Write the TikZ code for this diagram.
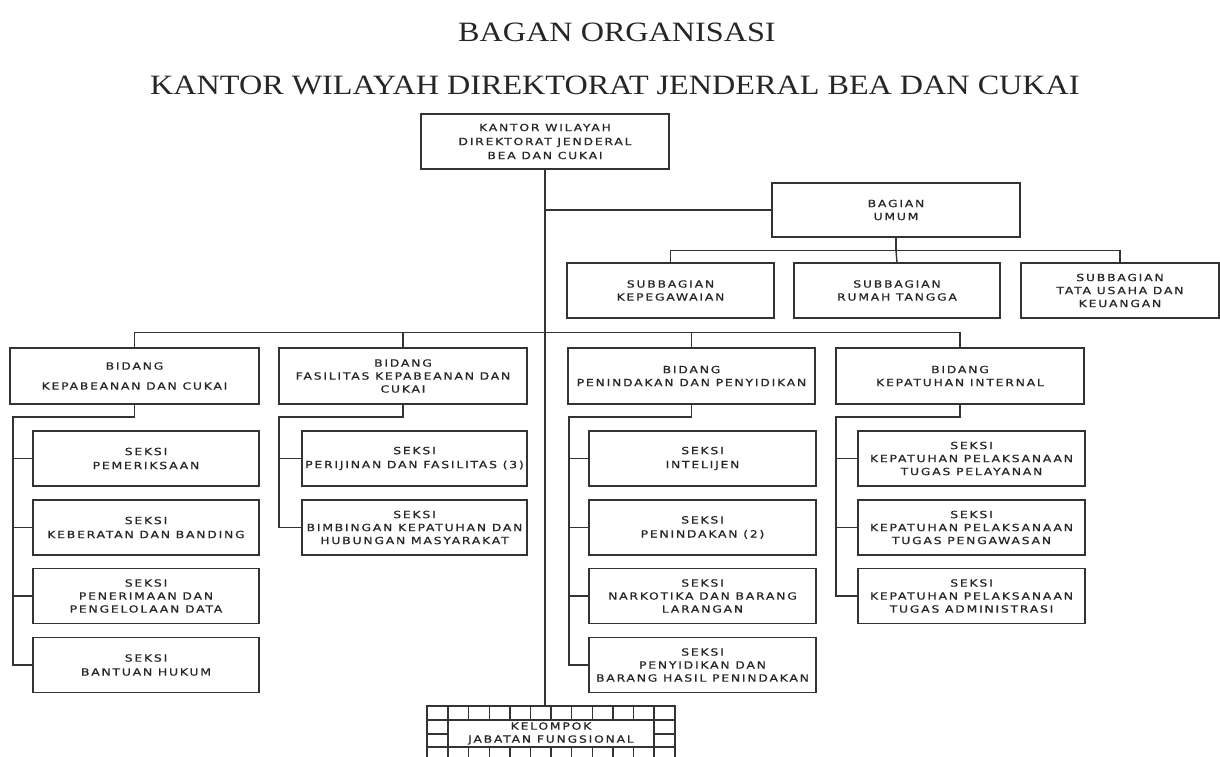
\documentclass[tikz,border=0pt]{standalone}
\usepackage{fontspec}
\setmainfont{Liberation Serif}
\newfontfamily\orgboxfont[FakeStretch=1.25,LetterSpace=18,FakeBold=0.8]{DejaVu Sans}
\newfontfamily\orgtitlefont[FakeStretch=1.15]{Liberation Serif}
\usetikzlibrary{calc}
\begin{document}
\begin{tikzpicture}[x=1pt,y=-1pt,
  ln/.style={line width=1.4pt, draw=black!80},
  box/.style={ln, rectangle, inner sep=0pt, align=center, text=black!85,
    font=\orgboxfont\fontsize{9.9}{13}\selectfont},
  bidbox/.style={box, minimum height=56},
  sekbox/.style={box, minimum height=55},
  ttl/.style={inner sep=0pt, text=black!85, font=\orgtitlefont\fontsize{28}{30}\selectfont}]
\useasboundingbox (0,0) rectangle (1220,757);

% titles
\node[ttl] (t1) at (617,32) {BAGAN ORGANISASI};
\node[ttl] (t2) at (615,85) {KANTOR WILAYAH DIREKTORAT JENDERAL BEA DAN CUKAI};

% head
\node[box, minimum width=248, minimum height=55, font=\orgboxfont\fontsize{9.9}{14}\selectfont] (top) at (545,141.5) {KANTOR WILAYAH\\DIREKTORAT JENDERAL\\BEA DAN CUKAI};

% bagian umum
\node[box, minimum width=248, minimum height=54] (umum) at (896,210) {BAGIAN\\UMUM};
\node[box, minimum width=207, minimum height=55] (sub1) at (670.5,290.5) {SUBBAGIAN\\KEPEGAWAIAN};
\node[box, minimum width=206, minimum height=55] (sub2) at (897,290.5) {SUBBAGIAN\\RUMAH TANGGA};
\node[box, minimum width=198, minimum height=55] (sub3) at (1120,290.5) {SUBBAGIAN\\TATA USAHA DAN\\KEUANGAN};

% bidang
\node[bidbox, minimum width=249, font=\orgboxfont\fontsize{9.9}{20}\selectfont] (b1) at (134.5,376) {BIDANG\\KEPABEANAN DAN CUKAI};
\node[bidbox, minimum width=248] (b2) at (403,376) {BIDANG\\FASILITAS KEPABEANAN DAN\\CUKAI};
\node[bidbox, minimum width=247] (b3) at (691.5,376) {BIDANG\\PENINDAKAN DAN PENYIDIKAN};
\node[bidbox, minimum width=248] (b4) at (960,376) {BIDANG\\KEPATUHAN INTERNAL};

% seksi under b1
\node[sekbox, minimum width=226, font=\orgboxfont\fontsize{9.9}{14}\selectfont] (s11) at (146,458.5) {SEKSI\\PEMERIKSAAN};
\node[sekbox, minimum width=226, font=\orgboxfont\fontsize{9.9}{14}\selectfont] (s12) at (146,527.5) {SEKSI\\KEBERATAN DAN BANDING};
\node[sekbox, minimum width=226] (s13) at (146,596) {SEKSI\\PENERIMAAN DAN\\PENGELOLAAN DATA};
\node[sekbox, minimum width=226, font=\orgboxfont\fontsize{9.9}{14}\selectfont] (s14) at (146,665) {SEKSI\\BANTUAN HUKUM};

% seksi under b2
\node[sekbox, minimum width=225, font=\orgboxfont\fontsize{9.9}{14}\selectfont] (s21) at (414.5,458.5) {SEKSI\\PERIJINAN DAN FASILITAS (3)};
\node[sekbox, minimum width=225] (s22) at (414.5,527.5) {SEKSI\\BIMBINGAN KEPATUHAN DAN\\HUBUNGAN MASYARAKAT};

% seksi under b3
\node[sekbox, minimum width=227, font=\orgboxfont\fontsize{9.9}{14}\selectfont] (s31) at (702.5,458.5) {SEKSI\\INTELIJEN};
\node[sekbox, minimum width=227, font=\orgboxfont\fontsize{9.9}{14}\selectfont] (s32) at (702.5,527.5) {SEKSI\\PENINDAKAN (2)};
\node[sekbox, minimum width=227] (s33) at (702.5,596) {SEKSI\\NARKOTIKA DAN BARANG\\LARANGAN};
\node[sekbox, minimum width=227] (s34) at (702.5,665) {SEKSI\\PENYIDIKAN DAN\\BARANG HASIL PENINDAKAN};

% seksi under b4
\node[sekbox, minimum width=227] (s41) at (971.5,458.5) {SEKSI\\KEPATUHAN PELAKSANAAN\\TUGAS PELAYANAN};
\node[sekbox, minimum width=227] (s42) at (971.5,527.5) {SEKSI\\KEPATUHAN PELAKSANAAN\\TUGAS PENGAWASAN};
\node[sekbox, minimum width=227] (s43) at (971.5,596) {SEKSI\\KEPATUHAN PELAKSANAAN\\TUGAS ADMINISTRASI};

% kelompok jabatan fungsional
\node[box, minimum width=206, minimum height=27, font=\orgboxfont\fontsize{9.9}{13}\selectfont] (kel) at (551,733.5) {KELOMPOK\\JABATAN FUNGSIONAL};
\coordinate (kt) at (545,706);

% connectors
\draw[ln] (top.south) -- (kt);
\draw[ln] (top.south |- umum.west) -- (umum.west);
\draw[ln] (umum.south) -- ++(0,13) coordinate (uj);
\draw[ln] (sub1.north) |- (uj) -| (sub3.north);
\draw[ln] (uj) -- (sub2.north);

\draw[ln] (b1.north) -- ++(0,-15) -| (b4.north);
\draw[ln] (b2.north) -- ++(0,-15);
\draw[ln] (b3.north) -- ++(0,-15);

\coordinate (c1) at (13,417);
\coordinate (c2) at (279,417);
\coordinate (c3) at (569,417);
\coordinate (c4) at (836,417);

\draw[ln] (b1.south) |- (c1) |- (s14.west);
\foreach \s in {s11,s12,s13} \draw[ln] (c1 |- \s.west) -- (\s.west);
\draw[ln] (b2.south) |- (c2) |- (s22.west);
\draw[ln] (c2 |- s21.west) -- (s21.west);
\draw[ln] (b3.south) |- (c3) |- (s34.west);
\foreach \s in {s31,s32,s33} \draw[ln] (c3 |- \s.west) -- (\s.west);
\draw[ln] (b4.south) |- (c4) |- (s43.west);
\foreach \s in {s41,s42} \draw[ln] (c4 |- \s.west) -- (\s.west);

% grid of kelompok
\draw[ln] (427,757) -- (427,706) -- (675,706) -- (675,757);
\draw[ln] (427,720) -- (675,720);
\draw[ln] (427,747) -- (675,747);
\draw[ln] (427,734) -- (448,734);
\draw[ln] (654,734) -- (675,734);
\draw[ln] (448,706) -- (448,757);
\draw[ln] (654,706) -- (654,757);
\foreach \k in {1,...,9} {
  \draw[ln] (448+20.6*\k,706) -- (448+20.6*\k,720);
  \draw[ln] (448+20.6*\k,747) -- (448+20.6*\k,757);
}
\end{tikzpicture}
\end{document}
